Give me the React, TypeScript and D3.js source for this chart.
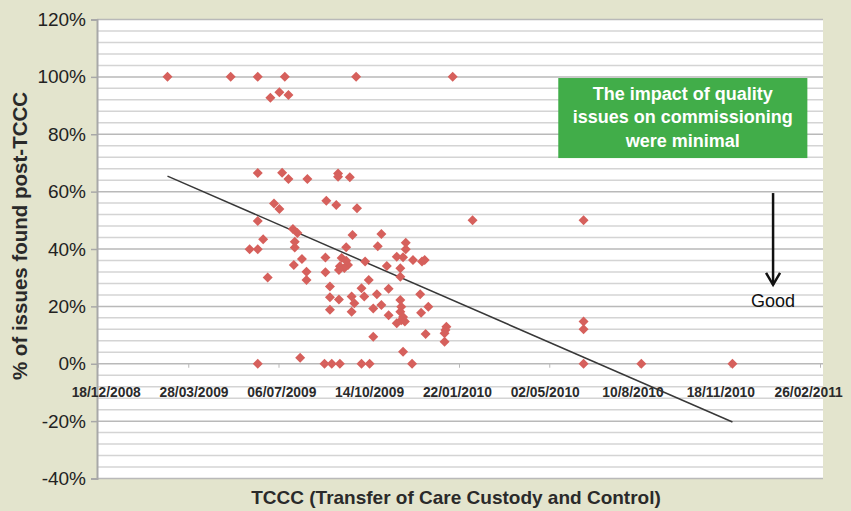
import * as d3 from "d3";
import { useEffect, useRef } from "react";

// x values are days after 18/12/2008 (the first axis tick), y values are % of issues
const issuePoints: [number, number][] = [
  [77, 100], [147, 100], [177, 100], [207, 100], [286, 100], [393, 100],
  [191, 92.7], [201, 94.6], [211, 93.7],
  [177, 66.5], [204, 66.6], [211, 64.4], [232, 64.4], [266, 66.3], [266, 65.2], [279, 65.0],
  [195, 55.9], [201, 53.9], [253, 56.8], [264, 55.3], [287, 54.2],
  [177, 49.8], [216, 47.0], [221, 45.6], [218, 42.5], [218, 40.5], [183, 43.4],
  [168, 39.9], [177, 39.9], [217, 34.4], [226, 36.5], [188, 30.1],
  [231, 32.1], [231, 29.2], [252, 37.0], [252, 31.9], [282, 44.9], [275, 40.6],
  [270, 36.9], [275, 35.9], [268, 34.0], [277, 34.4], [273, 33.4], [267, 32.7],
  [296, 35.6], [314, 45.2], [310, 41.0], [341, 42.2], [341, 39.9],
  [331, 37.3], [338, 37.1], [349, 36.2], [359, 35.6], [362, 36.2],
  [320, 34.1], [335, 33.3], [335, 30.3], [300, 29.2],
  [257, 26.9], [292, 26.3], [322, 26.1], [357, 24.2],
  [257, 23.2], [267, 22.4], [281, 23.4], [295, 23.4], [309, 24.2], [335, 22.2],
  [284, 21.1], [314, 20.5], [305, 19.3],
  [336, 19.9], [335, 18.1], [338, 16.3], [336, 15.2], [331, 14.1], [340, 14.7],
  [366, 19.9], [358, 17.8], [257, 18.8], [281, 18.1], [322, 16.9],
  [363, 10.4], [386, 12.9], [385, 11.8], [384, 10.6], [384, 7.7],
  [305, 9.4], [338, 4.2], [224, 2.1],
  [177, 0], [251, 0], [259, 0], [268, 0], [292, 0], [301, 0], [348, 0],
  [415, 50],
  [538, 50], [538, 14.7], [538, 12.0], [538, 0], [602, 0], [703, 0],
];

const trendDays = [77, 703];
const trendValues = [65.4, -20.3];

const xTickLabels = [
  "18/12/2008", "28/03/2009", "06/07/2009", "14/10/2009", "22/01/2010",
  "02/05/2010", "10/8/2010", "18/11/2010", "26/02/2011",
];
const yTicks = [-40, -20, 0, 20, 40, 60, 80, 100, 120];

const noteLines = ["The impact of quality", "issues on commissioning", "were minimal"];

const W = 851;
const H = 511;
const FONT = "'Liberation Sans', Arial, Helvetica, sans-serif";

export default function App() {
  const ref = useRef<SVGSVGElement | null>(null);

  useEffect(() => {
    if (!ref.current) return;
    const svg = d3.select(ref.current);
    svg.selectAll("*").remove();

    const parse = d3.timeParse("%d/%m/%Y");
    const tickDates = xTickLabels.map((s) => parse(s)!);
    const origin = tickDates[0];
    const toDate = (day: number) => d3.timeDay.offset(origin, day);

    const plot = { left: 97, right: 823, top: 19.5, bottom: 478.5 };

    const x = d3.scaleTime()
      .domain([tickDates[0], tickDates[tickDates.length - 1]])
      .range([98, 820]);
    const y = d3.scaleLinear().domain([-40, 120]).range([plot.bottom, plot.top]);

    svg.append("rect")
      .attr("width", W).attr("height", H).attr("fill", "#e3e4cd");
    svg.append("rect")
      .attr("x", plot.left).attr("y", plot.top)
      .attr("width", plot.right - plot.left).attr("height", plot.bottom - plot.top)
      .attr("fill", "#ffffff");

    // gridlines: minor every 4%, major every 20%
    const minor = d3.range(-40, 121, 4).filter((v) => v % 20 !== 0);
    svg.append("g")
      .selectAll("line")
      .data(minor)
      .join("line")
      .attr("x1", plot.left).attr("x2", plot.right)
      .attr("y1", (d) => y(d)).attr("y2", (d) => y(d))
      .attr("stroke", "#d4d4d4").attr("stroke-width", 1.5);
    svg.append("g")
      .selectAll("line")
      .data(yTicks)
      .join("line")
      .attr("x1", plot.left).attr("x2", plot.right)
      .attr("y1", (d) => y(d)).attr("y2", (d) => y(d))
      .attr("stroke", "#b9b9b9").attr("stroke-width", 1.5);

    // y axis
    const gy = svg.append("g")
      .attr("transform", `translate(${plot.left},0)`)
      .call(d3.axisLeft(y).tickValues(yTicks).tickSize(6).tickPadding(5).tickFormat((d) => `${d}%`));
    gy.select(".domain").attr("stroke", "#a8a8a8").attr("stroke-width", 2);
    gy.selectAll(".tick line").attr("stroke", "#a8a8a8").attr("stroke-width", 1.5);
    gy.selectAll("text")
      .attr("font-family", FONT).attr("font-size", 19).attr("fill", "#222");

    // x axis on the 0% line; the printed labels sit on a slightly tighter pitch than the ticks
    const gx = svg.append("g")
      .attr("transform", `translate(0,${y(0)})`)
      .call(d3.axisBottom(x).tickValues(tickDates).tickSize(4).tickPadding(19)
        .tickFormat((_d, i) => xTickLabels[i]));
    gx.select(".domain").remove();
    gx.selectAll(".tick line").attr("stroke", "#b9b9b9");
    gx.selectAll("text")
      .attr("dx", (_d, i) => 7.7 - 2.45 * i)
      .attr("font-family", FONT).attr("font-weight", "bold").attr("font-size", 13.8)
      .attr("fill", "#2a2a2a");

    // trend line
    const line = d3.line<number>()
      .x((d) => x(toDate(d)))
      .y((_d, i) => y(trendValues[i]));
    svg.append("path")
      .attr("d", line(trendDays)!)
      .attr("fill", "none").attr("stroke", "#383838").attr("stroke-width", 1.5);

    // diamonds
    const diamond = d3.symbol(d3.symbolSquare, 50)();
    svg.append("g")
      .selectAll("path")
      .data(issuePoints)
      .join("path")
      .attr("d", diamond)
      .attr("transform", (d) => `translate(${x(toDate(d[0]))},${y(d[1])}) rotate(45)`)
      .attr("fill", "#d6605c");

    // note box
    const bx0 = x(toDate(510)), bx1 = x(toDate(786));
    const by0 = y(99.6), by1 = y(71.7);
    svg.append("rect")
      .attr("x", bx0).attr("y", by0)
      .attr("width", bx1 - bx0).attr("height", by1 - by0)
      .attr("fill", "#41ad49");
    svg.append("g")
      .selectAll("text")
      .data(noteLines)
      .join("text")
      .attr("x", (bx0 + bx1) / 2)
      .attr("y", (_d, i) => by0 + 21.5 + i * 23.5)
      .attr("text-anchor", "middle")
      .attr("font-family", FONT).attr("font-weight", "bold").attr("font-size", 18)
      .attr("fill", "#ffffff")
      .text((d) => d);

    // "Good" arrow
    const ax = x(toDate(748));
    const ay0 = y(59.5), ay1 = y(27.5);
    svg.append("line")
      .attr("x1", ax).attr("x2", ax).attr("y1", ay0).attr("y2", ay1)
      .attr("stroke", "#111").attr("stroke-width", 2.5);
    svg.append("path")
      .attr("d", `M${ax - 7},${ay1 - 12} L${ax},${ay1} L${ax + 7},${ay1 - 12}`)
      .attr("fill", "none").attr("stroke", "#111").attr("stroke-width", 2.5);
    svg.append("text")
      .attr("x", ax).attr("y", ay1 + 22)
      .attr("text-anchor", "middle")
      .attr("font-family", FONT).attr("font-size", 18).attr("fill", "#111")
      .text("Good");

    // axis titles
    svg.append("text")
      .attr("transform", `translate(27,236) rotate(-90)`)
      .attr("text-anchor", "middle")
      .attr("font-family", FONT).attr("font-weight", "bold").attr("font-size", 20.5)
      .attr("fill", "#2a2a2a")
      .text("% of issues found post-TCCC");
    svg.append("text")
      .attr("x", 456).attr("y", 504)
      .attr("text-anchor", "middle")
      .attr("font-family", FONT).attr("font-weight", "bold").attr("font-size", 19)
      .attr("fill", "#2a2a2a")
      .text("TCCC (Transfer of Care Custody and Control)");
  }, []);

  return (
    <svg
      ref={ref}
      width={W}
      height={H}
      style={{ position: "absolute", left: 0, top: 0, display: "block" }}
    />
  );
}
